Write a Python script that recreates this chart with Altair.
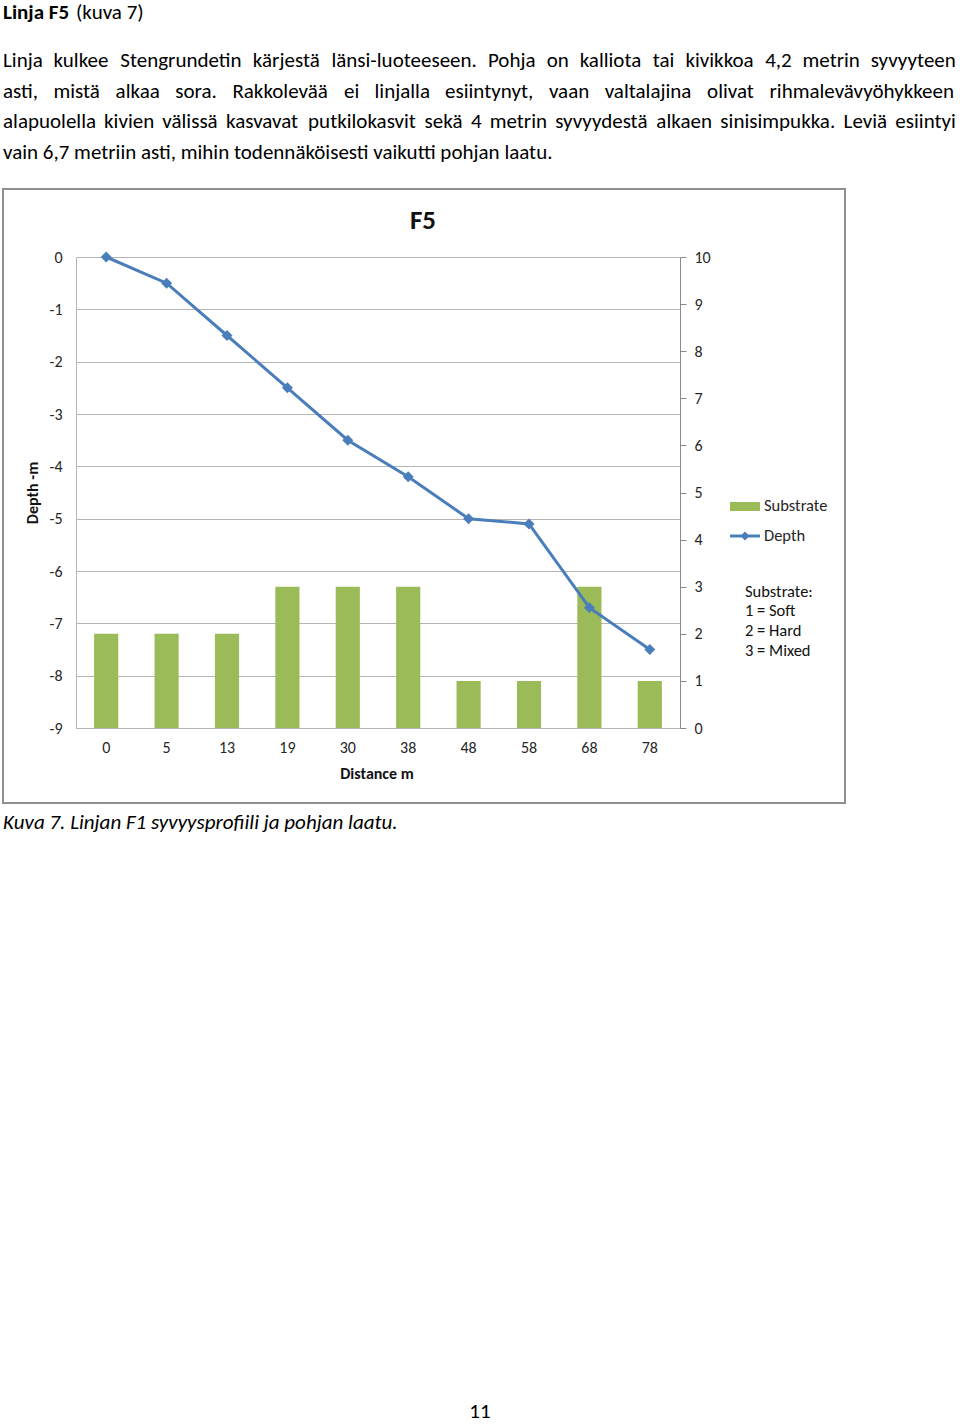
import altair as alt
import pandas as pd

# ---------------- data ----------------
distance = ["0", "5", "13", "19", "30", "38", "48", "58", "68", "78"]
depth = [0, -0.5, -1.5, -2.5, -3.5, -4.2, -5.0, -5.1, -6.7, -7.5]
substrate = [2, 2, 2, 3, 3, 3, 1, 1, 3, 1]

depth_ticks = list(range(-9, 1))
substrate_ticks = list(range(0, 11))

chart_title = "F5"
y_title = "Depth -m"
x_title = "Distance m"
legend_labels = ["Substrate", "Depth"]
note_lines = ["Substrate:", "1 = Soft", "2 = Hard", "3 = Mixed"]

heading_bold = "Linja F5"
heading_rest = "(kuva 7)"
justified_lines = [
    "Linja kulkee Stengrundetin kärjestä länsi-luoteeseen. Pohja on kalliota tai kivikkoa 4,2 metrin syvyyteen",
    "asti, mistä alkaa sora. Rakkolevää ei linjalla esiintynyt, vaan valtalajina olivat rihmalevävyöhykkeen",
    "alapuolella kivien välissä kasvavat putkilokasvit sekä 4 metrin syvyydestä alkaen sinisimpukka. Leviä esiintyi",
]
last_line = "vain 6,7 metriin asti, mihin todennäköisesti vaikutti pohjan laatu."
caption = "Kuva 7. Linjan F1 syvyysprofiili ja pohjan laatu."
page_number = "11"

# ---------------- layout ----------------
FONT = "Carlito, Lato, sans-serif"
BODY = 21
PAGE_W, PAGE_H = 960, 1425
OX, OY = 76, 257          # plot-area origin on the page
W, H = 604, 471           # plot-area size
GREEN = "#9BBB59"
BLUE = "#4A7EBB"
GRID = "#b5b5b5"
TXT = "#262626"

# approximate Calibri advance widths (em) used only to justify the paragraph
cw = {'a': .479, 'b': .525, 'c': .423, 'd': .525, 'e': .498, 'f': .305, 'g': .471,
      'h': .525, 'i': .229, 'j': .239, 'k': .455, 'l': .229, 'm': .799, 'n': .525,
      'o': .527, 'p': .525, 'q': .525, 'r': .349, 's': .391, 't': .335, 'u': .525,
      'v': .452, 'w': .715, 'x': .433, 'y': .453, 'z': .395, 'ä': .479, 'ö': .527,
      ',': .250, '.': .252, '-': .306, 'L': .420, 'S': .459, 'P': .517, 'R': .543}


def wwidth(word, em=21.0):
    return sum(cw.get(c, 0.507) for c in word) * em


line_y = [61, 92, 122, 153]
rows = []
for li, line in enumerate(justified_lines):
    words = line.split()
    widths = [wwidth(w) for w in words]
    gap = (956 - 3 - sum(widths)) / (len(words) - 1)
    x = 3.0
    for w, wd in zip(words, widths):
        rows.append({"text": w, "x": x - OX, "y": line_y[li] - OY})
        x += wd + gap
rows.append({"text": last_line, "x": 3 - OX, "y": line_y[3] - OY})
rows.append({"text": heading_rest, "x": 76 - OX, "y": 13 - OY})
words_df = pd.DataFrame(rows)

df = pd.DataFrame({"Distance": distance, "Depth": depth, "Substrate": substrate})
one = pd.DataFrame({"a": [0]})


def vx(v):
    return alt.value(v - OX)


def vy(v):
    return alt.value(v - OY)


X = alt.X(
    "Distance:O", sort=distance,
    scale=alt.Scale(paddingInner=0.6, paddingOuter=0.3),
    axis=alt.Axis(title=None, labelAngle=0, ticks=False, domainColor=GRID,
                  labelFont=FONT, labelFontSize=16, labelColor=TXT, labelPadding=11, grid=False),
)

bars = alt.Chart(df).mark_bar(color=GREEN).encode(
    x=X,
    y=alt.Y("Substrate:Q", scale=alt.Scale(domain=[0, 10], nice=False),
            axis=alt.Axis(orient="right", values=substrate_ticks, grid=False, tickSize=6,
                          tickColor="#8a8a8a", domainColor="#8a8a8a", labelPadding=8,
                          labelExpr="'' + datum.value",
                          labelFont=FONT, labelFontSize=16, labelColor=TXT, title=None)),
)

line = alt.Chart(df).mark_line(
    color=BLUE, strokeWidth=3,
    point=alt.OverlayMarkDef(shape="diamond", size=120, filled=True, color=BLUE),
).encode(
    x=X,
    y=alt.Y("Depth:Q", scale=alt.Scale(domain=[-9, 0], nice=False),
            axis=alt.Axis(orient="left", values=depth_ticks, grid=True, gridColor=GRID,
                          ticks=False, domainColor=GRID, labelPadding=14,
                          labelExpr="'' + datum.value",
                          labelFont=FONT, labelFontSize=16, labelColor=TXT, title=None)),
)

base = alt.Chart(one)

border = base.mark_rect(filled=False, stroke="#8f8f8f", strokeWidth=2).encode(
    x=vx(3), x2=vx(845), y=vy(189), y2=vy(803))

title = base.mark_text(font=FONT, fontSize=27, fontWeight="bold", color="#111",
                       align="center", baseline="middle").encode(
    x=vx(423), y=vy(221), text=alt.value(chart_title))

ytitle = base.mark_text(font=FONT, fontSize=16, fontWeight="bold", color="#111",
                        align="center", baseline="middle", angle=270).encode(
    x=vx(33), y=vy(493), text=alt.value(y_title))

xtitle = base.mark_text(font=FONT, fontSize=16, fontWeight="bold", color="#111",
                        align="center", baseline="middle").encode(
    x=vx(377), y=vy(774), text=alt.value(x_title))

leg_rect = base.mark_rect(color=GREEN).encode(
    x=vx(730), x2=vx(760), y=vy(502), y2=vy(511))
leg_rule = base.mark_rule(color=BLUE, strokeWidth=3).encode(
    x=vx(730), x2=vx(760), y=vy(536))
leg_pt = base.mark_point(shape="diamond", filled=True, size=80, color=BLUE, opacity=1).encode(
    x=vx(745), y=vy(536))
leg_t1 = base.mark_text(font=FONT, fontSize=16.5, color=TXT, align="left", baseline="middle").encode(
    x=vx(764), y=vy(506), text=alt.value(legend_labels[0]))
leg_t2 = base.mark_text(font=FONT, fontSize=16.5, color=TXT, align="left", baseline="middle").encode(
    x=vx(764), y=vy(536), text=alt.value(legend_labels[1]))

notes = [
    base.mark_text(font=FONT, fontSize=16.5, color="#111", align="left", baseline="middle").encode(
        x=vx(745), y=vy(yy), text=alt.value(t))
    for t, yy in zip(note_lines, [592, 611, 631, 651])
]

words = alt.Chart(words_df).mark_text(font=FONT, fontSize=BODY, color="#000",
                                      align="left", baseline="middle").encode(
    x=alt.X("x:Q", scale=None, axis=None),
    y=alt.Y("y:Q", scale=None, axis=None),
    text="text:N",
)

heading = base.mark_text(font=FONT, fontSize=BODY, fontWeight="bold", color="#000",
                         align="left", baseline="middle").encode(
    x=vx(3), y=vy(13), text=alt.value(heading_bold))

cap = base.mark_text(font=FONT, fontSize=BODY, fontStyle="italic", color="#000",
                     align="left", baseline="middle").encode(
    x=vx(3), y=vy(823), text=alt.value(caption))

pagenum = base.mark_text(font=FONT, fontSize=BODY, color="#000",
                         align="center", baseline="middle").encode(
    x=vx(480), y=vy(1412), text=alt.value(page_number))

chart = alt.layer(
    border, bars, line, title, ytitle, xtitle,
    leg_rect, leg_rule, leg_pt, leg_t1, leg_t2, *notes,
    words, heading, cap, pagenum,
).resolve_scale(y="independent").properties(
    width=W, height=H,
    padding={"left": OX, "top": OY, "right": PAGE_W - OX - W, "bottom": PAGE_H - OY - H},
    autosize=alt.AutoSizeParams(type="none"),
    background="white",
).configure_view(stroke=None)

chart.save("out.html", embed_options={"renderer": "svg", "actions": False})
